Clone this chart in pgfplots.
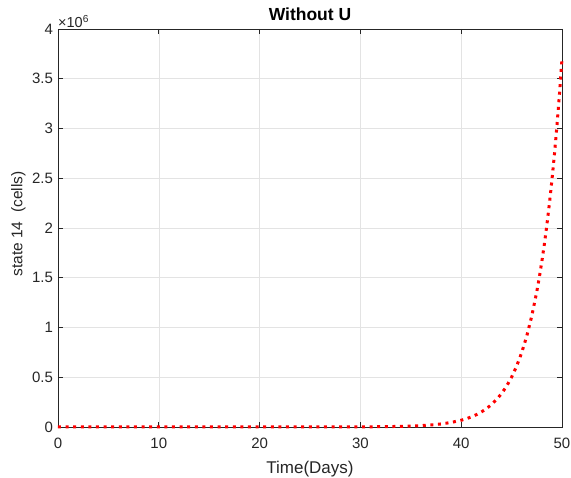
\documentclass[border=0pt]{standalone}
\usepackage{pgfplots}
\pgfplotsset{compat=1.18}
\usepackage{fontspec}
\setmainfont{Liberation Sans}
\definecolor{axgray}{RGB}{38,38,38}
\begin{document}
\begin{tikzpicture}
\useasboundingbox (-58pt,-51pt) rectangle (513pt,427pt);
\begin{axis}[
  scale only axis,
  width=504pt, height=398pt,
  xmin=0, xmax=50, ymin=0, ymax=4000000,
  xtick={0,10,20,30,40,50},
  ytick={0,500000,1000000,1500000,2000000,2500000,3000000,3500000,4000000},
  yticklabels={0,0.5,1,1.5,2,2.5,3,3.5,4},
  scaled y ticks=false,
  /pgf/number format/assume math mode=true,
  tick align=inside,
  major tick length=5pt,
  axis line style={axgray, line width=0.6pt},
  tick style={axgray, line width=0.6pt},
  grid=major,
  major grid style={gray!22, line width=0.5pt},
  tick label style={font=\fontsize{15pt}{17pt}\selectfont, text=axgray},
  xticklabel style={anchor=base, yshift=-22pt},
  yticklabel style={xshift=-1.5pt},
  title={\textbf{Without U}},
  title style={font=\fontsize{17.5pt}{19pt}\selectfont, at={(axis description cs:0.5,1.0075)}, anchor=base},
  xlabel={Time(Days)},
  ylabel={state 14\ \ (cells)},
  xlabel style={font=\fontsize{17pt}{19pt}\selectfont, text=axgray, at={(axis description cs:0.5,-0.1156)}, anchor=base},
  ylabel style={font=\fontsize{15.5pt}{17pt}\selectfont, text=axgray, at={(axis description cs:-0.0705,0.51)}, anchor=base, rotate=0},
  clip=false,
]
\addplot[red, line width=3pt, dash pattern=on 3pt off 4.6pt] coordinates {
(0,0) (10,0) (20,0) (25,300) (30,1241) (32,2763) (34,6150) (35,9172)
(36,13685) (37,20415) (38,30455) (39,45435) (40,67770) (40.5,82780)
(41,101100) (41.5,123460) (42,150800) (42.5,184200) (43,225000)
(43.5,274800) (44,335650) (44.5,409950) (45,500750) (45.5,611650)
(46,747050) (46.5,912400) (47,1114400) (47.5,1361150) (47.75,1504300)
(48,1662400) (48.25,1837300) (48.5,2030550) (48.75,2244100) (49,2480200)
(49.25,2741000) (49.5,3029300) (49.75,3347900) (50,3700000)
};
\node[anchor=south west, inner sep=0pt, yshift=1pt, text=axgray, font=\fontsize{14.5pt}{16pt}\selectfont] at (rel axis cs:0,1) {×10\textsuperscript{6}};
\end{axis}
\end{tikzpicture}
\end{document}
